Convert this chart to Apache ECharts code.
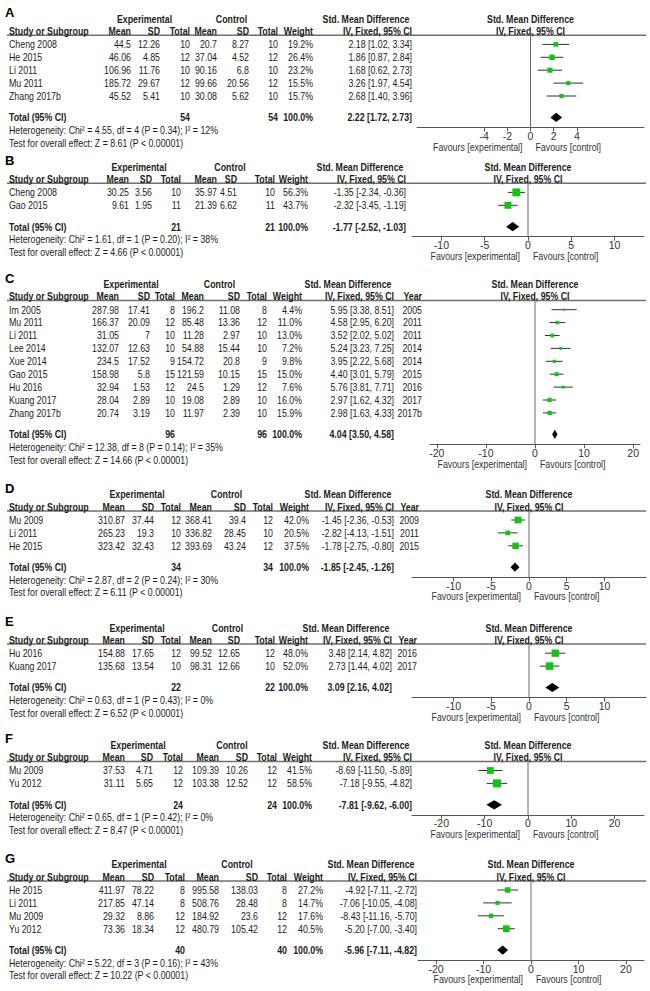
<!DOCTYPE html>
<html><head><meta charset="utf-8">
<script src="https://cdn.jsdelivr.net/npm/echarts@6/dist/echarts.min.js"></script>
<style>html,body{margin:0;padding:0;background:#fff}#c{width:650px;height:991px}</style>
</head><body><div id="c"></div>
<script>
// ================= DATA =================
const panelLetters = ['A','B','C','D','E','F','G'];
const studyNames = [
  ['Cheng 2008','He 2015','Li 2011','Mu 2011','Zhang 2017b'],
  ['Cheng 2008','Gao 2015'],
  ['Im 2005','Mu 2011','Li 2011','Lee 2014','Xue 2014','Gao 2015','Hu 2016','Kuang 2017','Zhang 2017b'],
  ['Mu 2009','Li 2011','He 2015'],
  ['Hu 2016','Kuang 2017'],
  ['Mu 2009','Yu 2012'],
  ['He 2015','Li 2011','Mu 2009','Yu 2012']
];
const expMean = [[44.5,46.06,106.96,185.72,45.52],[30.25,9.61],[287.98,166.37,31.05,132.07,234.5,158.98,32.94,28.04,20.74],[310.87,265.23,323.42],[154.88,135.68],[37.53,31.11],[411.97,217.85,29.32,73.36]];
const expSD = [[12.26,4.85,11.76,29.67,5.41],[3.56,1.95],[17.41,20.09,7,12.63,17.52,5.8,1.53,2.89,3.19],[37.44,19.3,32.43],[17.65,13.54],[4.71,5.65],[78.22,47.14,8.86,18.34]];
const expN = [[10,12,10,12,10],[10,11],[8,12,10,10,9,15,12,10,10],[12,10,12],[12,10],[12,12],[8,8,12,12]];
const ctrlMean = [[20.7,37.04,90.16,99.66,30.08],[35.97,21.39],[196.2,85.48,11.28,54.88,154.72,121.59,24.5,19.08,11.97],[368.41,336.82,393.69],[99.52,98.31],[109.39,103.38],[995.58,508.76,184.92,480.79]];
const ctrlSD = [[8.27,4.52,6.8,20.56,5.62],[4.51,6.62],[11.08,13.36,2.97,15.44,20.8,10.15,1.29,2.89,2.39],[39.4,28.45,43.24],[12.65,12.66],[10.26,12.52],[138.03,28.48,23.6,105.42]];
const ctrlN = [[10,12,10,12,10],[10,11],[8,12,10,10,9,15,12,10,10],[12,10,12],[12,10],[12,12],[8,8,12,12]];
const weightPct = [[19.2,26.4,23.2,15.5,15.7],[56.3,43.7],[4.4,11.0,13.0,7.2,9.8,15.0,7.6,16.0,15.9],[42.0,20.5,37.5],[48.0,52.0],[41.5,58.5],[27.2,14.7,17.6,40.5]];
const smd = [[2.18,1.86,1.68,3.26,2.68],[-1.35,-2.32],[5.95,4.58,3.52,5.24,3.95,4.40,5.76,2.97,2.98],[-1.45,-2.82,-1.78],[3.48,2.73],[-8.69,-7.18],[-4.92,-7.06,-8.43,-5.20]];
const ciLow = [[1.02,0.87,0.62,1.97,1.40],[-2.34,-3.45],[3.38,2.95,2.02,3.23,2.22,3.01,3.81,1.62,1.63],[-2.36,-4.13,-2.75],[2.14,1.44],[-11.50,-9.55],[-7.11,-10.05,-11.16,-7.00]];
const ciHigh = [[3.34,2.84,2.73,4.54,3.96],[-0.36,-1.19],[8.51,6.20,5.02,7.25,5.68,5.79,7.71,4.32,4.33],[-0.53,-1.51,-0.80],[4.82,4.02],[-5.89,-4.82],[-2.72,-4.08,-5.70,-3.40]];
const studyYear = [null,null,['2005','2011','2011','2014','2014','2015','2016','2017','2017b'],['2009','2011','2015'],['2016','2017'],null,null];
const totalExpN = [54,21,96,34,22,24,40];
const totalCtrlN = [54,21,96,34,22,24,40];
const totalSMD = [2.22,-1.77,4.04,-1.85,3.09,-7.81,-5.96];
const totalLow = [1.72,-2.52,3.50,-2.45,2.16,-9.62,-7.11];
const totalHigh = [2.73,-1.03,4.58,-1.26,4.02,-6.00,-4.82];
const hetChi2 = [4.55,1.61,12.38,2.87,0.63,0.65,5.22];
const hetDf = [4,1,8,2,1,1,3];
const hetP = [0.34,0.20,0.14,0.24,0.43,0.42,0.16];
const hetI2 = [12,38,35,30,0,0,43];
const overallZ = [8.61,4.66,14.66,6.11,6.52,8.47,10.22];
const axisTicks = [[-4,-2,0,2,4],[-10,-5,0,5,10],[-20,-10,0,10,20],[-10,-5,0,5,10],[-10,-5,0,5,10],[-20,-10,0,10,20],[-20,-10,0,10,20]];

// ================= LAYOUT =================
const LAY = {
  labelY: [12.7,160.7,278,488.3,621.5,738.8,858.3],
  h1Off: 6.3, h2Off: 18.4, ulOff: 22.6, row0Off: 31.7,
  pitch: 12.9, totalGap: 21.4, hetGap: 12.7, testGap: 12.7, axisOff: 10, favOff: 4,
  cols: [
    [131,160,190,217,249,278,313,412],
    [129,152,181,217,237,275,308,406],
    [119,150,175,204,240,267,302,394],
    [125,154,181,212,246,273,309,394],
    [125,154,181,212,240,275,308,392],
    [125,153,183,219,248,277,312,412],
    [125,154,185,219,258,287,323,417]
  ],
  yearRight: [null,null,422,419,417,null,null],
  plotLeft: [417,412,430,412,412,412,418],
  plotRight: [644,644,640,646,646,644,644],
  plotRange: [9.8,13.4,21.4,15.5,15.5,26.8,23.8]
};
const NARROW = 0.8;
const FONT = '"Liberation Sans", Arial, Helvetica, sans-serif';
const TXT = '#1c1c1c';
const GREEN = '#12c412';

function T(x, y, s, align, bold, opts) {
  opts = opts || {};
  const size = opts.size || 11;
  return {type:'text', x:x, y:y, scaleX: opts.wide ? 1 : NARROW, silent:true, z:10,
    style:{text:String(s), x:0, y:0, fill: opts.color || TXT,
      font:(bold?'bold ':'') + size + 'px ' + FONT,
      align: align || 'left', verticalAlign:'middle',
      textAlign: align || 'left', textVerticalAlign:'middle'}};
}
const f2 = v => v.toFixed(2);
const ciText = (e,l,h) => f2(e) + ' [' + f2(l) + ', ' + f2(h) + ']';

function renderStudy(params, api) {
  const row = api.value(1);
  const c = api.coord([api.value(0), row]);
  const pl = api.coord([api.value(2), row]);
  const ph = api.coord([api.value(3), row]);
  const s = Math.max(2.2, Math.sqrt(api.value(4)) * 1.05);
  return {type:'group', children:[
    {type:'line', shape:{x1:pl[0], y1:c[1], x2:ph[0], y2:c[1]}, style:{stroke:'#333', lineWidth:1}},
    {type:'rect', shape:{x:c[0]-s/2, y:c[1]-s/2, width:s, height:s}, style:{fill:GREEN}}
  ]};
}
function renderDiamond(params, api) {
  const row = api.value(1);
  const c = api.coord([api.value(0), row]);
  const l = api.coord([api.value(2), row]);
  const h = api.coord([api.value(3), row]);
  const d = 4.6;
  return {type:'polygon', shape:{points:[[l[0],c[1]],[c[0],c[1]-d],[h[0],c[1]],[c[0],c[1]+d]]}, style:{fill:'#000'}};
}

const graphics = [], grids = [], xAxes = [], yAxes = [], series = [];
for (let k = 0; k < 7; k++) {
  const n = studyNames[k].length;
  const top = LAY.labelY[k];
  const h1 = top + LAY.h1Off, h2 = top + LAY.h2Off, ul = top + LAY.ulOff, r0 = top + LAY.row0Off;
  const P = LAY.pitch;
  const rowY = i => r0 + i * P;
  const totalIdx = (n - 1) + LAY.totalGap / P;
  const totalY = rowY(totalIdx);
  const hetY = totalY + LAY.hetGap, testY = hetY + LAY.testGap;
  const axisY = totalY + LAY.axisOff;
  const favY = testY + LAY.favOff;
  const c = LAY.cols[k];
  const pL = LAY.plotLeft[k], pR = LAY.plotRight[k], R = LAY.plotRange[k];
  const zeroX = pL + (pR - pL) / 2;
  const pC = zeroX;

  graphics.push(T(5, top, panelLetters[k], 'left', true, {size:13, wide:true, color:'#000'}));
  graphics.push(T((c[0] + c[2]) / 2 - 16, h1, 'Experimental', 'center', true));
  graphics.push(T((c[3] + c[5]) / 2 - 16, h1, 'Control', 'center', true));
  graphics.push(T(c[7] - 46, h1, 'Std. Mean Difference', 'center', true));
  graphics.push(T(pC, h1, 'Std. Mean Difference', 'center', true));
  graphics.push(T(9, h2, 'Study or Subgroup', 'left', true));
  ['Mean','SD','Total','Mean','SD','Total','Weight','IV, Fixed, 95% CI'].forEach((s, j) => graphics.push(T(c[j], h2, s, 'right', true)));
  if (studyYear[k]) graphics.push(T(LAY.yearRight[k], h2, 'Year', 'right', true));
  graphics.push(T(pC, h2, 'IV, Fixed, 95% CI', 'center', true));
  graphics.push({type:'line', silent:true, shape:{x1:7, y1:ul, x2:646, y2:ul}, style:{stroke:'#707070', lineWidth:1.5}});

  for (let i = 0; i < n; i++) {
    const y = rowY(i);
    graphics.push(T(9, y, studyNames[k][i], 'left', false));
    const vals = [expMean[k][i], expSD[k][i], expN[k][i], ctrlMean[k][i], ctrlSD[k][i], ctrlN[k][i],
      weightPct[k][i].toFixed(1) + '%', ciText(smd[k][i], ciLow[k][i], ciHigh[k][i])];
    vals.forEach((v, j) => graphics.push(T(c[j], y, v, 'right', false)));
    if (studyYear[k]) graphics.push(T(LAY.yearRight[k], y, studyYear[k][i], 'right', false));
  }
  graphics.push(T(9, totalY, 'Total (95% CI)', 'left', true));
  graphics.push(T(c[2], totalY, totalExpN[k], 'right', true));
  graphics.push(T(c[5], totalY, totalCtrlN[k], 'right', true));
  graphics.push(T(c[6], totalY, '100.0%', 'right', true));
  graphics.push(T(c[7], totalY, ciText(totalSMD[k], totalLow[k], totalHigh[k]), 'right', true));
  graphics.push(T(9, hetY, 'Heterogeneity: Chi\u00b2 = ' + f2(hetChi2[k]) + ', df = ' + hetDf[k] + ' (P = ' + f2(hetP[k]) + '); I\u00b2 = ' + hetI2[k] + '%', 'left', false));
  graphics.push(T(9, testY, 'Test for overall effect: Z = ' + f2(overallZ[k]) + ' (P < 0.00001)', 'left', false));
  graphics.push(T(zeroX - 8, favY, 'Favours [experimental]', 'right', false, {color:'#333'}));
  graphics.push(T(zeroX + 5, favY, 'Favours [control]', 'left', false, {color:'#333'}));

  const yMin = (ul - r0) / P, yMax = (axisY - r0) / P;
  grids.push({left:pL, width:pR - pL, top:ul, height:axisY - ul, containLabel:false, outerBoundsMode:'none'});
  yAxes.push({gridIndex:k, type:'value', inverse:true, min:yMin, max:yMax, show:false});
  xAxes.push({gridIndex:k, type:'value', min:-R, max:R, position:'bottom',
    axisLine:{show:true, onZero:false, lineStyle:{color:'#555', width:1}},
    axisTick:{show:true, customValues:axisTicks[k], length:4, lineStyle:{color:'#555'}},
    axisLabel:{show:true, customValues:axisTicks[k], margin:3, color:'#333', fontSize:10.5, fontFamily:FONT},
    splitLine:{show:false}});
  series.push({type:'line', xAxisIndex:k, yAxisIndex:k, data:[[0, yMin], [0, yMax]], symbol:'none', silent:true,
    lineStyle:{color:'#6a6a6a', width:1}, z:1});
  series.push({type:'custom', xAxisIndex:k, yAxisIndex:k, renderItem:renderStudy, silent:true, z:3,
    encode:{x:[0,2,3], y:1},
    data: studyNames[k].map((_, i) => [smd[k][i], i, ciLow[k][i], ciHigh[k][i], weightPct[k][i]])});
  series.push({type:'custom', xAxisIndex:k, yAxisIndex:k, renderItem:renderDiamond, silent:true, z:3,
    encode:{x:[0,2,3], y:1},
    data: [[totalSMD[k], totalIdx, totalLow[k], totalHigh[k]]]});
}

const chart = echarts.init(document.getElementById('c'), null, {renderer:'svg', width:650, height:991});
chart.setOption({
  animation:false,
  backgroundColor:'#fff',
  grid:grids, xAxis:xAxes, yAxis:yAxes, series:series,
  graphic:{elements:graphics}
});
</script></body></html>
